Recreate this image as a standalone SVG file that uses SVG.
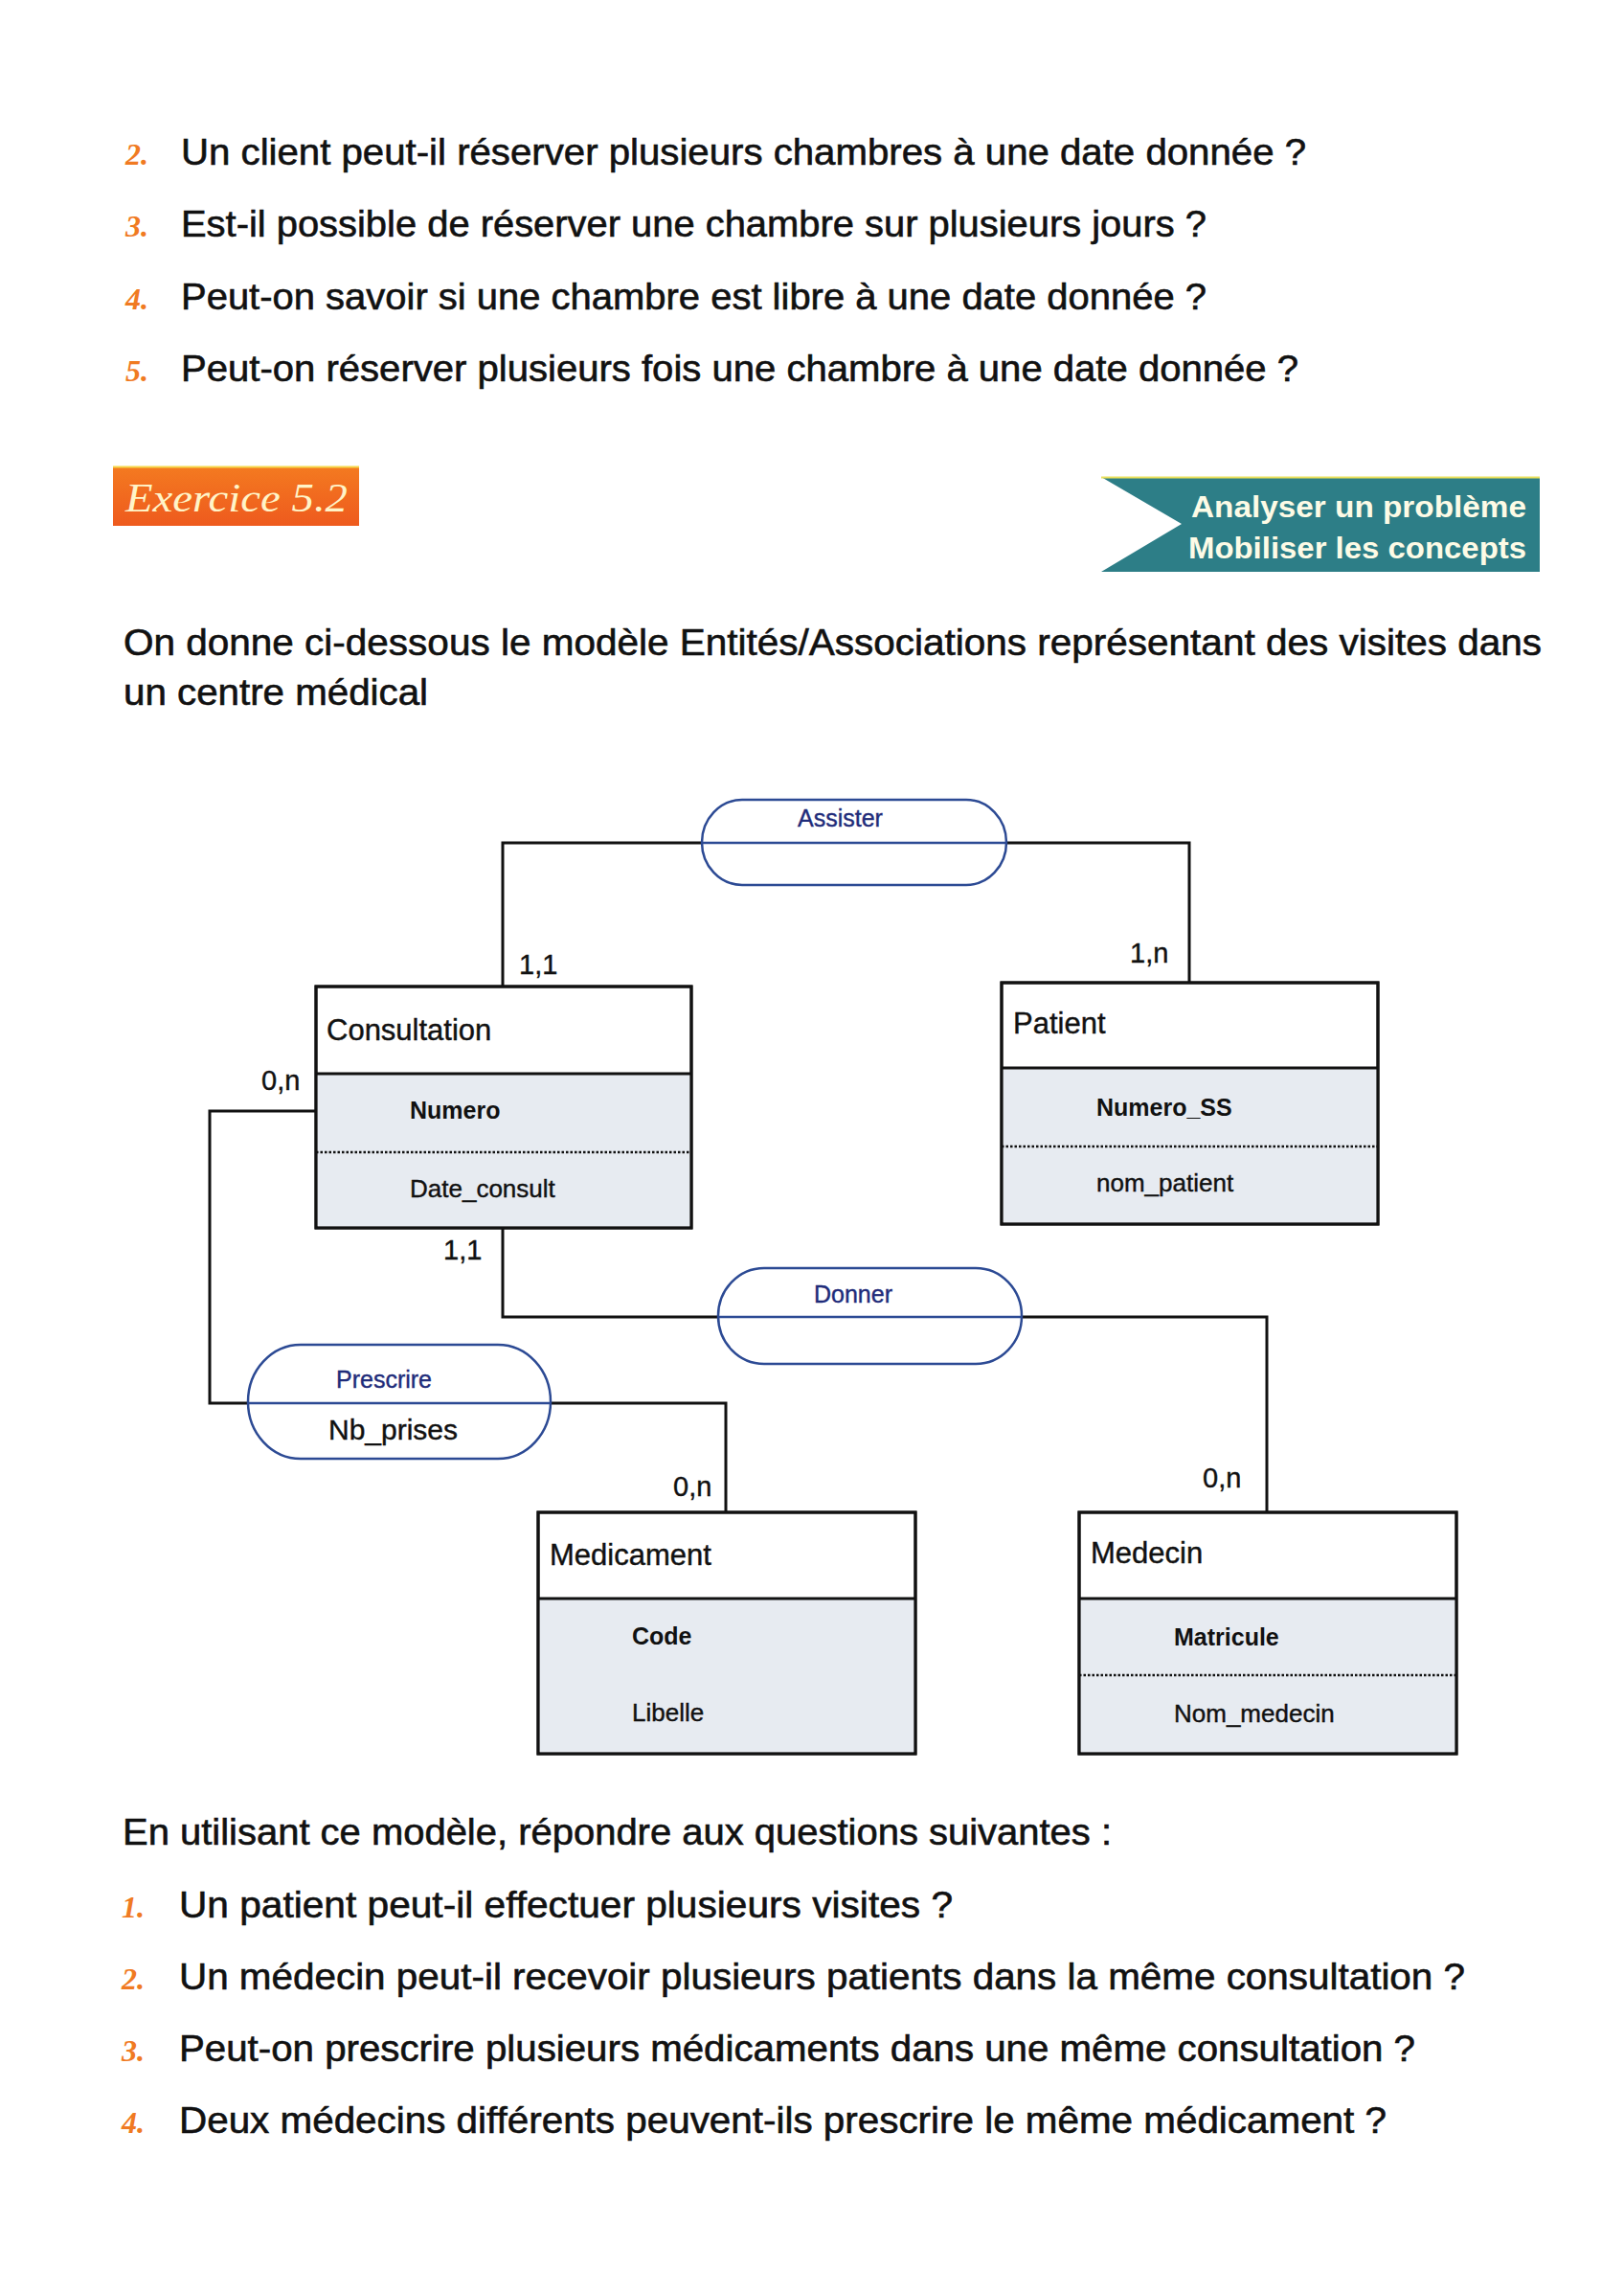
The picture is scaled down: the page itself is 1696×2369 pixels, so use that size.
<svg xmlns="http://www.w3.org/2000/svg" width="1696" height="2369" viewBox="0 0 1696 2369">
<defs>
<linearGradient id="og" x1="0" y1="0" x2="0" y2="1"><stop offset="0" stop-color="#F47A20"/><stop offset="1" stop-color="#EE5A1E"/></linearGradient>
<style>
.t{font-family:"Liberation Sans",Arial,sans-serif;font-size:38px;fill:#111;stroke:#111;stroke-width:0.6}
.num{font-family:"Liberation Serif","Times New Roman",serif;font-style:italic;font-weight:bold;font-size:32px;fill:#F07A22}
.ent{fill:#fff;stroke:#111;stroke-width:3}
.att{fill:#E7EBF1;stroke:none}
.div{stroke:#111;stroke-width:3}
.dot{stroke:#111;stroke-width:2.5;stroke-dasharray:2.5 2}
.name{font-family:"Liberation Sans",Arial,sans-serif;font-size:31px;fill:#111;stroke:#111;stroke-width:0.4}
.key{font-family:"Liberation Sans",Arial,sans-serif;font-size:25px;font-weight:bold;fill:#111}
.attr{font-family:"Liberation Sans",Arial,sans-serif;font-size:26px;fill:#111;stroke:#111;stroke-width:0.4}
.card{font-family:"Liberation Sans",Arial,sans-serif;font-size:29px;fill:#111;stroke:#111;stroke-width:0.4}
.as{fill:#fff;stroke:#2C4A94;stroke-width:2.5}
.asl{stroke:#2C4A94;stroke-width:2.5}
.asn{font-family:"Liberation Sans",Arial,sans-serif;font-size:25px;fill:#1F2C7A;stroke:#1F2C7A;stroke-width:0.4}
.con{fill:none;stroke:#111;stroke-width:3}
</style>
</defs>
<rect width="1696" height="2369" fill="#fff"/>

<g id="top-questions">
<text class="num" x="131" y="172">2.</text>
<text class="t" x="189" y="172" textLength="1175" lengthAdjust="spacingAndGlyphs">Un client peut-il réserver plusieurs chambres à une date donnée ?</text>
<text class="num" x="131" y="247">3.</text>
<text class="t" x="189" y="247" textLength="1071" lengthAdjust="spacingAndGlyphs">Est-il possible de réserver une chambre sur plusieurs jours ?</text>
<text class="num" x="131" y="323">4.</text>
<text class="t" x="189" y="323" textLength="1071" lengthAdjust="spacingAndGlyphs">Peut-on savoir si une chambre est libre à une date donnée ?</text>
<text class="num" x="131" y="398">5.</text>
<text class="t" x="189" y="398" textLength="1167" lengthAdjust="spacingAndGlyphs">Peut-on réserver plusieurs fois une chambre à une date donnée ?</text>
</g>

<g id="exercise-header">
<rect x="118" y="487" width="257" height="62" fill="url(#og)"/>
<line x1="118" y1="487.5" x2="375" y2="487.5" stroke="#F6D84A" stroke-width="2"/>
<text x="131" y="534" font-family="Liberation Serif,'Times New Roman',serif" font-style="italic" font-size="42" fill="#FFF4C8" textLength="232" lengthAdjust="spacingAndGlyphs">Exercice 5.2</text>
</g>

<g id="banner">
<polygon points="1150,498 1608,498 1608,597 1150,597 1234,547" fill="#2D7E87"/>
<line x1="1150" y1="498.5" x2="1608" y2="498.5" stroke="#E9E05A" stroke-width="2"/>
<text x="1244" y="540" font-family="Liberation Sans,Arial,sans-serif" font-weight="bold" font-size="32" fill="#FDFBE6" textLength="350" lengthAdjust="spacingAndGlyphs">Analyser un problème</text>
<text x="1241" y="583" font-family="Liberation Sans,Arial,sans-serif" font-weight="bold" font-size="32" fill="#FDFBE6" textLength="353" lengthAdjust="spacingAndGlyphs">Mobiliser les concepts</text>
</g>

<g id="intro">
<text class="t" x="129" y="684" textLength="1481" lengthAdjust="spacingAndGlyphs">On donne ci-dessous le modèle Entités/Associations représentant des visites dans</text>
<text class="t" x="129" y="736" textLength="318" lengthAdjust="spacingAndGlyphs">un centre médical</text>
</g>

<g id="connectors">
<polyline class="con" points="525,1030 525,880 733,880"/>
<polyline class="con" points="1051,880 1242,880 1242,1026"/>
<polyline class="con" points="525,1282 525,1375 750,1375"/>
<polyline class="con" points="1067,1375 1323,1375 1323,1579"/>
<polyline class="con" points="330,1160 219,1160 219,1465 259,1465"/>
<polyline class="con" points="575,1465 758,1465 758,1579"/>
<text class="card" x="542" y="1017">1,1</text>
<text class="card" x="1180" y="1005">1,n</text>
<text class="card" x="273" y="1138">0,n</text>
<text class="card" x="463" y="1315">1,1</text>
<text class="card" x="703" y="1562">0,n</text>
<text class="card" x="1256" y="1553">0,n</text>
</g>

<g id="assister">
<rect class="as" x="733" y="835" width="318" height="89" rx="42" ry="44.5"/>
<line class="asl" x1="733" y1="880" x2="1051" y2="880"/>
<text class="asn" x="833" y="863">Assister</text>
</g>

<g id="donner">
<rect class="as" x="750" y="1324" width="317" height="100" rx="48" ry="50"/>
<line class="asl" x1="750" y1="1375" x2="1067" y2="1375"/>
<text class="asn" x="850" y="1360">Donner</text>
</g>

<g id="prescrire">
<rect class="as" x="259" y="1404" width="316" height="119" rx="55" ry="59.5"/>
<line class="asl" x1="259" y1="1465" x2="575" y2="1465"/>
<text class="asn" x="351" y="1449">Prescrire</text>
<text x="343" y="1503" font-family="Liberation Sans,Arial,sans-serif" font-size="30" fill="#111" stroke="#111" stroke-width="0.4">Nb_prises</text>
</g>

<g id="consultation">
<rect class="ent" x="330" y="1030" width="392" height="252"/>
<rect class="att" x="331.5" y="1121" width="389" height="159.5"/>
<line class="div" x1="330" y1="1121" x2="722" y2="1121"/>
<line class="dot" x1="330" y1="1203" x2="722" y2="1203"/>
<rect fill="none" stroke="#111" stroke-width="3" x="330" y="1030" width="392" height="252"/>
<text class="name" x="341" y="1086">Consultation</text>
<text class="key" x="428" y="1168">Numero</text>
<text class="attr" x="428" y="1250">Date_consult</text>
</g>

<g id="patient">
<rect class="ent" x="1046" y="1026" width="393" height="252"/>
<rect class="att" x="1047.5" y="1115" width="390" height="161.5"/>
<line class="div" x1="1046" y1="1115" x2="1439" y2="1115"/>
<line class="dot" x1="1046" y1="1197" x2="1439" y2="1197"/>
<rect fill="none" stroke="#111" stroke-width="3" x="1046" y="1026" width="393" height="252"/>
<text class="name" x="1058" y="1079">Patient</text>
<text class="key" x="1145" y="1165">Numero_SS</text>
<text class="attr" x="1145" y="1244">nom_patient</text>
</g>

<g id="medicament">
<rect class="ent" x="562" y="1579" width="394" height="252"/>
<rect class="att" x="563.5" y="1669" width="391" height="160.5"/>
<line class="div" x1="562" y1="1669" x2="956" y2="1669"/>
<rect fill="none" stroke="#111" stroke-width="3" x="562" y="1579" width="394" height="252"/>
<text class="name" x="574" y="1634">Medicament</text>
<text class="key" x="660" y="1717">Code</text>
<text class="attr" x="660" y="1797">Libelle</text>
</g>

<g id="medecin">
<rect class="ent" x="1127" y="1579" width="394" height="252"/>
<rect class="att" x="1128.5" y="1669" width="391" height="160.5"/>
<line class="div" x1="1127" y1="1669" x2="1521" y2="1669"/>
<line class="dot" x1="1127" y1="1749" x2="1521" y2="1749"/>
<rect fill="none" stroke="#111" stroke-width="3" x="1127" y="1579" width="394" height="252"/>
<text class="name" x="1139" y="1632">Medecin</text>
<text class="key" x="1226" y="1718">Matricule</text>
<text class="attr" x="1226" y="1798">Nom_medecin</text>
</g>

<g id="bottom-questions">
<text class="t" x="128" y="1926" textLength="1033" lengthAdjust="spacingAndGlyphs">En utilisant ce modèle, répondre aux questions suivantes :</text>
<text class="num" x="127" y="2002">1.</text>
<text class="t" x="187" y="2002" textLength="808" lengthAdjust="spacingAndGlyphs">Un patient peut-il effectuer plusieurs visites ?</text>
<text class="num" x="127" y="2077">2.</text>
<text class="t" x="187" y="2077" textLength="1343" lengthAdjust="spacingAndGlyphs">Un médecin peut-il recevoir plusieurs patients dans la même consultation ?</text>
<text class="num" x="127" y="2152">3.</text>
<text class="t" x="187" y="2152" textLength="1291" lengthAdjust="spacingAndGlyphs">Peut-on prescrire plusieurs médicaments dans une même consultation ?</text>
<text class="num" x="127" y="2227">4.</text>
<text class="t" x="187" y="2227" textLength="1261" lengthAdjust="spacingAndGlyphs">Deux médecins différents peuvent-ils prescrire le même médicament ?</text>
</g>
</svg>
